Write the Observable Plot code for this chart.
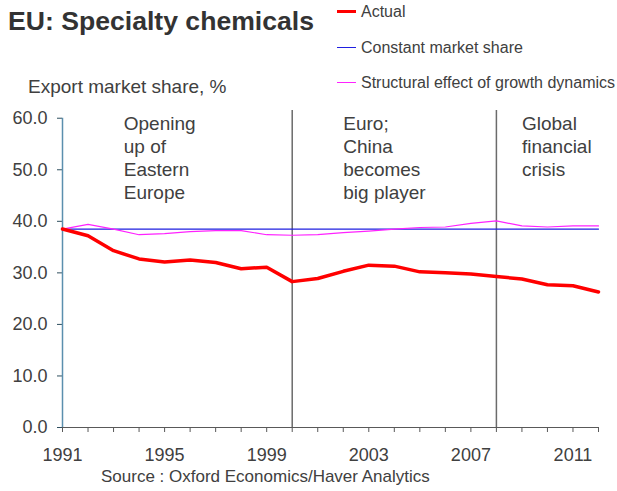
<!DOCTYPE html>
<html><head><meta charset="utf-8">
<script src="https://cdn.jsdelivr.net/npm/d3@7"></script>
<script src="https://cdn.jsdelivr.net/npm/@observablehq/plot@0.6"></script>
<style>
body{margin:0;background:#fff;font-family:"Liberation Sans",Arial,sans-serif;}
#wrap{position:relative;width:617px;height:491px;overflow:hidden;background:#fff;}
#chart{position:absolute;left:0;top:0;}
.t{position:absolute;white-space:nowrap;color:#404040;line-height:1;}
.lg{position:absolute;left:337px;font-size:16px;line-height:1;color:#404040;white-space:nowrap;padding-left:24px;}
.sw{position:absolute;left:0;top:7px;width:19px;}
</style></head><body>
<div id="wrap">
<div id="chart"></div>
<div class="t" style="left:8px;top:8.3px;font-size:26.6px;font-weight:bold;color:#333;">EU: Specialty chemicals</div>
<div class="t" style="left:28px;top:77px;font-size:19px;">Export market share, %</div>
<div class="t" style="left:101px;top:468px;font-size:17px;">Source : Oxford Economics/Haver Analytics</div>
</div>
<script>
const years = [1991,1992,1993,1994,1995,1996,1997,1998,1999,2000,2001,2002,2003,2004,2005,2006,2007,2008,2009,2010,2011,2012];
const actual = [38.5,37.2,34.3,32.7,32.1,32.5,32.0,30.8,31.1,28.3,28.9,30.3,31.5,31.3,30.2,30.0,29.8,29.3,28.8,27.7,27.5,26.3];
const constantShare = [38.5,38.5,38.5,38.5,38.5,38.5,38.5,38.5,38.5,38.5,38.5,38.5,38.5,38.5,38.5,38.5,38.5,38.5,38.5,38.5,38.5,38.5];
const structural = [38.5,39.4,38.5,37.4,37.6,38.0,38.2,38.2,37.4,37.3,37.4,37.8,38.1,38.5,38.8,38.9,39.6,40.1,39.1,38.9,39.1,39.1];
const seriesNames = ["Actual","Constant market share","Structural effect of growth dynamics"];
const seriesColors = ["#ff0000","#1f1fe0","#ff22ff"];
const seriesWidths = [3.5,1.2,1.2];
const yTicks = [0,10,20,30,40,50,60];
const xLabelYears = [1991,1995,1999,2003,2007,2011];
const eventYears = [2000,2008];
const noteYears = [1993.4,2002,2009];
const noteLabels = ["Opening\nup of\nEastern\nEurope","Euro;\nChina\nbecomes\nbig player","Global\nfinancial\ncrisis"];

const mk = (vals, name) => years.map((y,i)=>({year:y, value:vals[i], series:name}));
const lineData = [
  mk(constantShare, seriesNames[1]),
  mk(structural, seriesNames[2]),
  mk(actual, seriesNames[0])
];
const notes = noteYears.map((x,i)=>({x, label:noteLabels[i]}));

const chart = Plot.plot({
  width:617, height:491,
  marginLeft:62, marginRight:19, marginTop:110, marginBottom:64,
  style:{fontFamily:'"Liberation Sans",Arial,sans-serif', background:"transparent", color:"#404040"},
  x:{domain:[1991,2012], axis:null},
  y:{domain:[0,61.5], axis:null},
  marks:[
    Plot.ruleX(eventYears,{stroke:"#6b6b6b", strokeWidth:1.5}),
    Plot.ruleY([0],{stroke:"#595959", strokeWidth:1.2}),
    Plot.axisX({ticks:years, tickSize:5, tickFormat:()=>"", stroke:"#595959", label:null}),
    Plot.axisX({ticks:xLabelYears, tickSize:0, tickPadding:21, tickFormat:d=>String(d), fontSize:18, fill:"#404040", label:null}),
    Plot.axisY({ticks:yTicks, tickSize:5, tickPadding:10, tickFormat:d=>d.toFixed(1), fontSize:18, fill:"#404040", stroke:"#2f4f5f", label:null}),
    Plot.ruleX([1991],{y1:0, y2:60, stroke:"#5b8fae", strokeWidth:1.5}),
    ...lineData.map(d=>{
      const idx = seriesNames.indexOf(d[0].series);
      return Plot.line(d,{x:"year", y:"value", stroke:seriesColors[idx], strokeWidth:seriesWidths[idx], strokeLinejoin:"round"});
    }),
    Plot.text(notes,{x:"x", text:"label", frameAnchor:"top", textAnchor:"start", lineAnchor:"top", dy:3, fontSize:19, lineHeight:1.21, fill:"#404040"})
  ]
});
document.getElementById("chart").appendChild(chart);

const wrap = document.getElementById("wrap");
const legendTops = [3.8,39.8,74.8];
seriesNames.forEach((n,i)=>{
  const d = document.createElement("div");
  d.className = "lg";
  d.style.top = legendTops[i]+"px";
  const s = document.createElement("span");
  s.className = "sw";
  s.style.borderTop = (i===0?3:1.2)+"px solid "+seriesColors[i];
  if (i===0) s.style.top = "6px";
  d.appendChild(s);
  d.appendChild(document.createTextNode(n));
  wrap.appendChild(d);
});
</script>
</body></html>
